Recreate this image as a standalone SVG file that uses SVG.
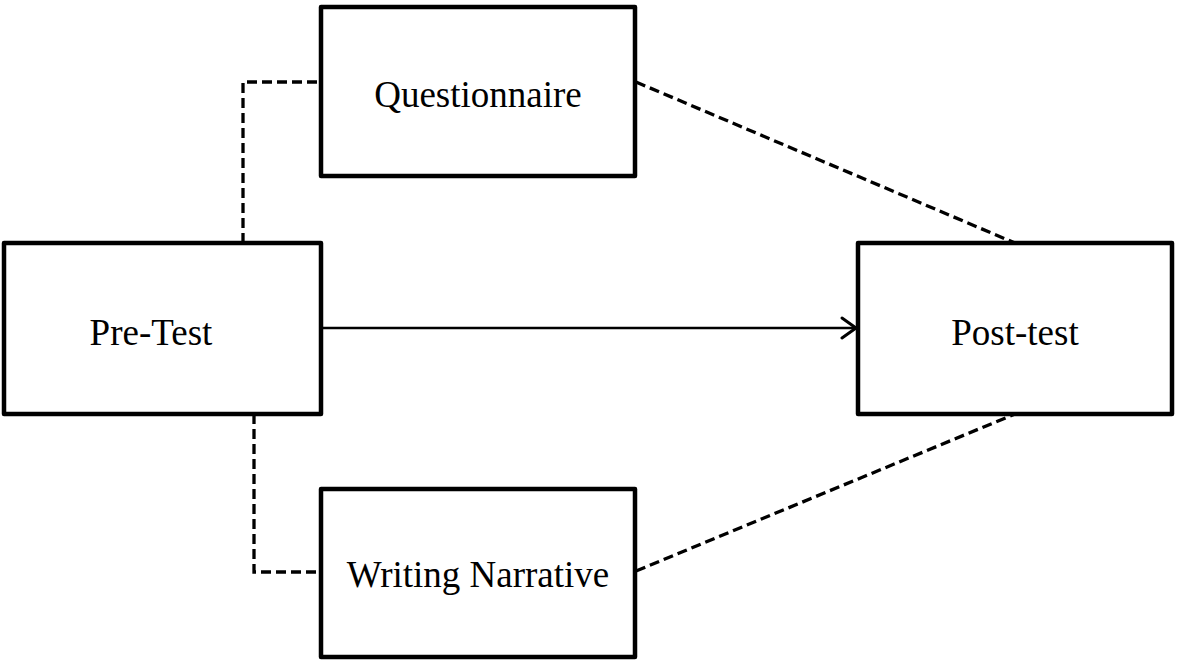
<svg xmlns="http://www.w3.org/2000/svg" width="1178" height="663" viewBox="0 0 1178 663">
<style>
.box{fill:#fff;stroke:#000;stroke-width:4.5;stroke-linejoin:round}
.lbl{font-family:"Liberation Serif","Times New Roman",serif;font-size:37px;fill:#000;text-anchor:middle}
.dash{fill:none;stroke:#000;stroke-width:3.3;stroke-dasharray:10 5}
.solid{fill:none;stroke:#000;stroke-width:2.5}
</style>
<defs>
<marker id="arr" markerUnits="userSpaceOnUse" markerWidth="24" markerHeight="24" refX="20" refY="12" orient="auto" viewBox="0 0 24 24">
<path d="M6 2 L20 12 L6 22" fill="none" stroke="#000" stroke-width="3" stroke-linecap="round" stroke-linejoin="round"/>
</marker>
</defs>
<g id="connectors">
<path class="dash" d="M243 243 V82 H321"/>
<path class="dash" d="M254 414 V572 H321"/>
<path class="dash" d="M636 82 L1015 243"/>
<path class="dash" d="M636 571 L1015 414"/>
<path class="solid" d="M321 328 H856" marker-end="url(#arr)"/>
</g>
<g id="questionnaire">
<rect class="box" x="321" y="7" width="314" height="169"/>
<text class="lbl" x="478" y="107">Questionnaire</text>
</g>
<g id="pretest">
<rect class="box" x="4" y="243" width="317" height="171"/>
<text class="lbl" x="151" y="345">Pre-Test</text>
</g>
<g id="posttest">
<rect class="box" x="858" y="243" width="314" height="171"/>
<text class="lbl" x="1015" y="345">Post-test</text>
</g>
<g id="writing">
<rect class="box" x="321" y="489" width="314" height="168"/>
<text class="lbl" x="478" y="587">Writing Narrative</text>
</g>
</svg>
